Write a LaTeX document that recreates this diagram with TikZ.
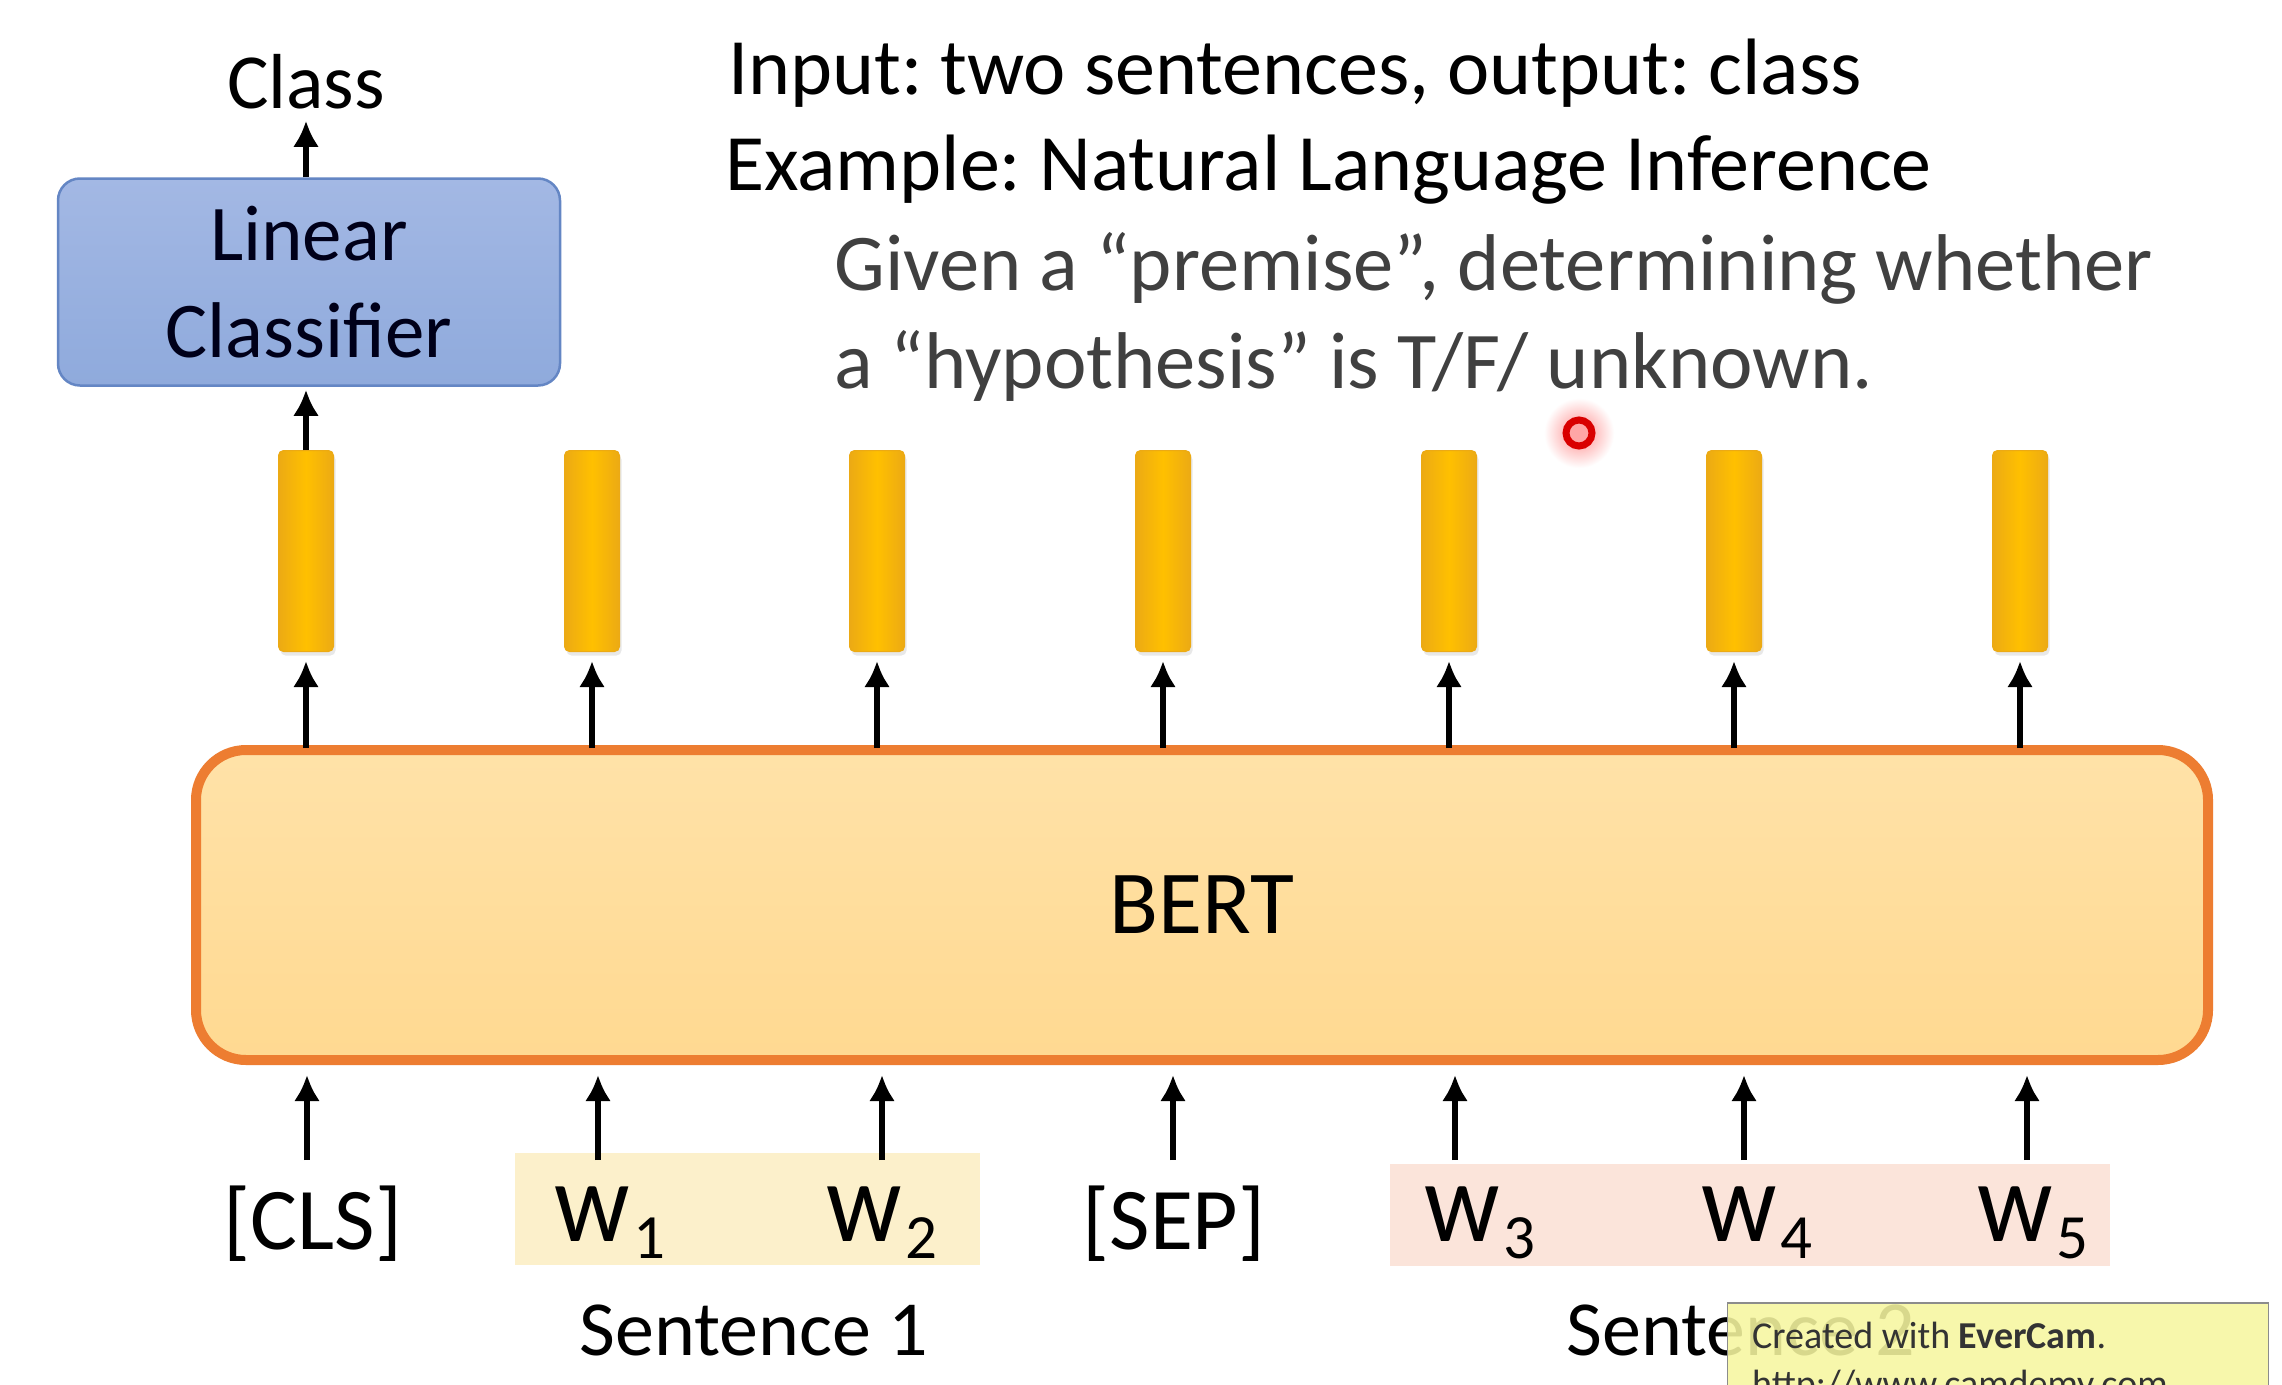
\documentclass[tikz,border=0pt]{standalone}
\usepackage{fontspec}
\setmainfont{Carlito}
\usetikzlibrary{arrows.meta,shadows}
\frenchspacing
\definecolor{lcfill}{RGB}{143,170,220}
\definecolor{lcfilltop}{RGB}{163,184,228}
\definecolor{lcdraw}{RGB}{100,134,196}
\definecolor{bertfill}{RGB}{255,217,145}
\definecolor{bertfilltop}{RGB}{255,226,168}
\definecolor{bertdraw}{RGB}{237,125,49}
\definecolor{vecfill}{RGB}{255,192,0}
\definecolor{vecedge}{RGB}{236,170,20}
\definecolor{sOne}{RGB}{252,240,203}
\definecolor{sTwo}{RGB}{251,228,218}
\definecolor{graytext}{RGB}{64,64,64}
\definecolor{wmfill}{RGB}{246,246,160}
\newcommand{\wsub}[1]{\scalebox{1.2}[1.3]{w}\hspace{4pt}\raisebox{-17pt}{\fontsize{63}{63}\selectfont #1}}
\begin{document}
\begin{tikzpicture}[x=1pt,y=-1pt,
  arr/.style={line width=6pt,-{Latex[length=26pt,width=26pt]}},
  vecbox/.style={draw=vecedge,line width=1pt,left color=vecedge,right color=vecedge,middle color=vecfill,
     minimum width=55pt,minimum height=201pt,inner sep=0pt,rounded corners=5pt,
     drop shadow={opacity=0.18,shadow xshift=2pt,shadow yshift=-4pt}},
  tok/.style={font=\fontsize{88}{100}\selectfont,anchor=base,inner sep=0pt},
  big/.style={font=\fontsize{78}{94}\selectfont,inner sep=0pt},
  top/.style={font=\fontsize{80}{94}\selectfont,inner sep=0pt,anchor=base west},
  ]
\useasboundingbox[fill=white] (0,0) rectangle (2282,1384);

% sentence backgrounds
\node[fill=sOne,minimum width=465pt,minimum height=112pt,inner sep=0pt] (bg1) at (747,1209) {};
\node[fill=sTwo,minimum width=720pt,minimum height=102pt,inner sep=0pt] (bg2) at (1750,1215) {};

% Linear classifier
\node[draw=lcdraw,line width=2.5pt,top color=lcfilltop,bottom color=lcfill,rounded corners=22pt,
      minimum width=502pt,minimum height=207pt,inner sep=0pt,align=center,
      font=\fontsize{79}{97}\selectfont,text=black!90!blue] (lc) at (309,282) {Linear\\Classifier};
\node[big,anchor=base] (cls) at (306,108) {Class};
\draw[arr] (lc.north -| cls) -- ([yshift=-12pt]cls.south);

% top text
\node[top] (l1) at (728,94) {Input: two sentences, output: class};
\node[top] (l2) at (725,190) {Example: Natural Language Inference};
\node[top,font=\fontsize{80.5}{94}\selectfont,text=graytext] (l3) at (834,290) {Given a “premise”, determining whether};
\node[top,font=\fontsize{80.5}{94}\selectfont,text=graytext] (l4) at (834,388) {a “hypothesis” is T/F/ unknown.};

% cursor
\node[circle,inner color=red!45,outer color=white,minimum size=70pt,inner sep=0pt] (curglow) at (1579,433) {};
\node[circle,draw=red!85!black,line width=7pt,fill=red!35!white,minimum size=26pt,inner sep=0pt] (cur) at (1579,433) {};

% BERT
\node[draw=bertdraw,line width=10pt,top color=bertfilltop,bottom color=bertfill,rounded corners=50pt,
      minimum width=2012pt,minimum height=310pt,inner sep=0pt,
      font=\fontsize{90}{100}\selectfont] (bert) at (1202,905) {BERT};

% vectors
\foreach \i/\x in {1/306,2/592,3/877,4/1163,5/1449,6/1734,7/2020}{
  \node[vecbox] (v\i) at (\x,551) {};
  \draw[arr,shorten >=9pt] ([yshift=-3pt]v\i.south |- bert.north) -- (v\i.south);
}
\draw[arr,shorten >=3pt] (v1.north) -- (v1.north |- lc.south);

% tokens
\node[tok] (t1) at (313,1249) {[CLS]};
\node[tok] (t2) at (610,1241) {\wsub{1}};
\node[tok] (t3) at (882,1241) {\wsub{2}};
\node[tok] (t4) at (1174,1249) {[SEP]};
\node[tok] (t5) at (1480,1241) {\wsub{3}};
\node[tok] (t6) at (1757,1241) {\wsub{4}};
\node[tok] (t7) at (2033,1241) {\wsub{5}};
\foreach \i/\x in {1/307,2/598,3/882,4/1173,5/1455,6/1744,7/2027}{
  \coordinate (a\i) at (\x,1160);
  \draw[arr,shorten >=10pt] (a\i) -- (a\i |- bert.south);
}

\node[big,anchor=base] (s1) at (754,1355) {Sentence 1};
\node[big,anchor=base] (s2) at (1741,1355) {Sentence 2};

% watermark
\begin{scope}
\clip (0,0) rectangle (2282,1384);
\node[draw=black!45,line width=1.5pt,fill=wmfill,fill opacity=0.88,draw opacity=1,
      minimum width=541pt,minimum height=120pt,inner sep=0pt] (wm) at (1998,1363) {};
\node[anchor=base west,inner sep=0pt,font=\fontsize{38}{40}\selectfont,text=black!80] (wm1) at (1752,1348)
  {Created with \textbf{EverCam}.};
\node[anchor=base west,inner sep=0pt,font=\fontsize{38}{40}\selectfont,text=black!80] (wm2) at (1752,1396)
  {http://www.camdemy.com};
\end{scope}
\end{tikzpicture}
\end{document}
